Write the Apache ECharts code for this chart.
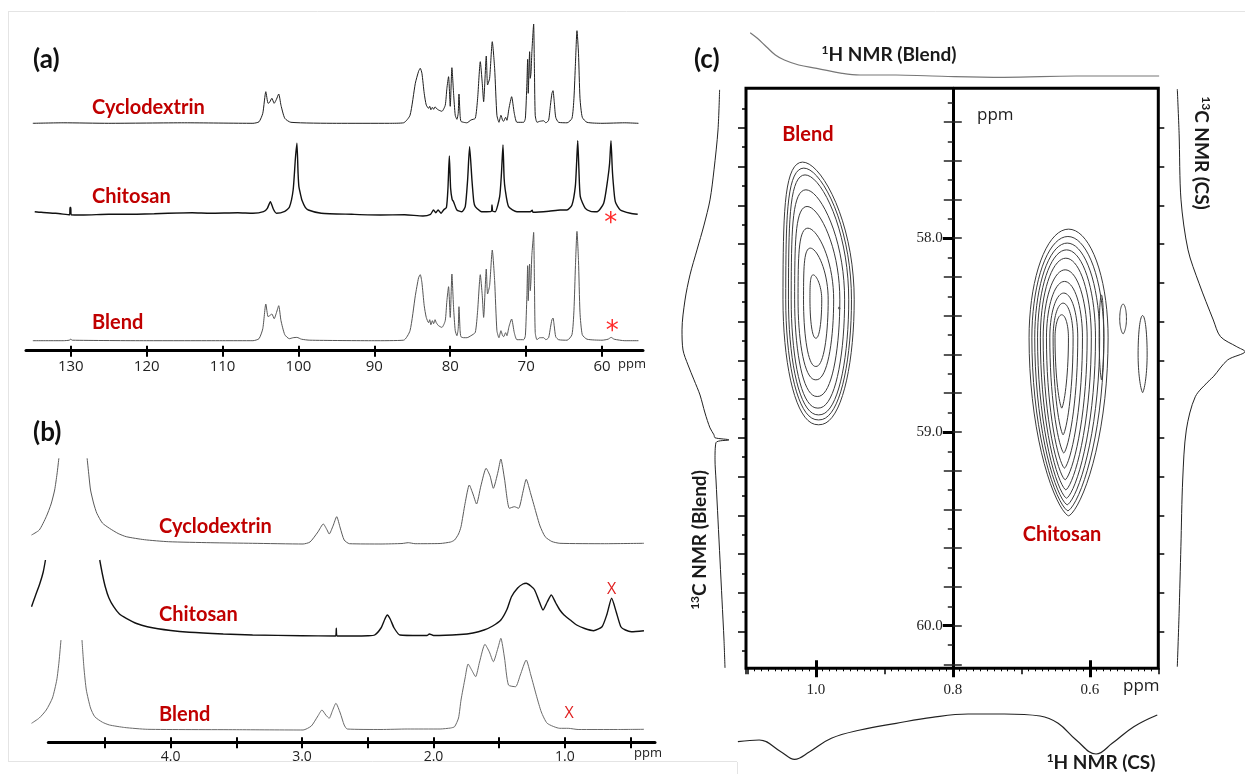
<!DOCTYPE html>
<html>
<head>
<meta charset="utf-8">
<script src="https://cdn.jsdelivr.net/npm/echarts@6.0.0/dist/echarts.min.js"></script>
<style>
  html, body { margin: 0; padding: 0; background: #fff; }
  #chart { width: 1245px; height: 774px; }
</style>
</head>
<body>
<div id="chart"></div>
<script>
// ---- (a) 13C CP/MAS spectra: [ppm, intensity a.u.] ----
const c13Cyclodextrin = [
  [135.0, 0], [131, 0.5], [125, 0], [115, 0.5], [106, 0], [105.2, 1.5], [104.7, 10], [104.3, 31.6], [104.0, 20],
  [103.8, 21], [103.5, 25], [103.2, 20], [102.9, 24], [102.6, 29.3], [102.3, 18], [101.8, 5], [101.0, 1], [95, 0],
  [88, 0], [86.15, 0.5], [85.3, 8], [84.6, 40], [84.17, 52], [83.95, 55], [83.73, 50], [83.43, 30], [83.16, 18.3],
  [82.85, 15], [82.7, 17], [82.55, 13.5], [82.35, 16], [82.19, 14], [82.0, 16.5], [81.84, 15], [81.54, 13.3],
  [81.1, 12], [80.66, 18], [80.44, 35], [80.22, 46.6], [80.0, 17], [79.78, 55.6], [79.56, 30], [79.34, 8],
  [79.12, 4], [78.95, 10], [78.85, 29.3], [78.7, 8], [78.59, 2], [78.24, 1], [77.8, 0.5], [77.27, 3.3], [76.7, 5],
  [76.39, 25], [76.04, 61.6], [75.78, 40], [75.6, 21.6], [75.25, 67.3], [75.08, 38.3], [74.81, 45], [74.46, 81.6],
  [74.15, 55], [73.85, 8], [73.58, 1], [73.32, 8], [73.1, 3], [72.97, 2], [72.7, 6], [72.53, 3], [72.26, 15],
  [71.91, 26.6], [71.56, 10], [71.21, 1], [70.33, 1], [70.1, 5], [69.9, 40], [69.8, 64], [69.72, 30], [69.6, 60],
  [69.54, 71.6], [69.45, 45], [69.36, 50], [69.25, 70], [69.1, 90], [69.01, 99.3], [68.9, 50], [68.8, 8],
  [68.57, 1], [68.2, 2], [67.69, 2.5], [67.4, 0.5], [67.04, 3], [66.8, 18], [66.6, 30], [66.46, 32.6], [66.3, 22],
  [66.1, 6], [65.72, 1], [64.6, 0.5], [63.96, 5], [63.7, 25], [63.5, 60], [63.3, 92.6], [63.1, 70], [62.9, 25],
  [62.6, 6], [61.98, 1], [60, 0], [57, 0.5], [55.2, 0]
];
const c13Chitosan = [
  [134.75, 1.6], [133.9, 1], [132, 0], [130.15, -1.5], [130.1, 5.9], [130.0, 5.9], [129.95, -1.5], [128.3, -1.7],
  [125, -1], [122.7, -1], [119, -0.5], [117.2, 0], [114, 0.5], [111.6, 0], [108, 0.5], [106.0, 0], [104.6, 1.6],
  [104.1, 5], [103.7, 11.6], [103.3, 4], [102.9, 0], [101.8, 2], [101.2, 6], [100.7, 23.3], [100.4, 55],
  [100.2, 70], [100.05, 40], [99.94, 26.6], [99.7, 18], [99.55, 13.3], [99.1, 6], [98.7, 3.3], [97.0, 0],
  [93, -1], [89.2, -1.7], [86, -1.5], [83.6, -2.7], [82.6, -1], [82.2, 3.3], [81.9, 0.5], [81.6, 3.3], [81.2, 0],
  [80.88, 3.3], [80.5, 6], [80.3, 25], [80.12, 57.3], [79.95, 25], [79.75, 14], [79.56, 11.6], [79.12, 3.3],
  [78.46, 1.6], [78.02, 6.6], [77.71, 33.3], [77.45, 66.6], [77.14, 33.3], [76.9, 12], [76.7, 6.6], [76.0, 2],
  [75.6, 1.6], [74.6, 2], [74.5, 8.3], [74.4, 2], [74.07, 1.6], [73.49, 16.6], [73.25, 40], [73.05, 68.3],
  [72.9, 35], [72.75, 23.3], [72.31, 6.6], [71.21, 1.6], [69.45, 1.6], [69.2, 3], [69.1, 1], [67, 2], [65.5, 3.3],
  [64.62, 3.3], [63.96, 8.3], [63.52, 26.6], [63.35, 50], [63.2, 72.6], [63.05, 45], [62.86, 16.6], [62.2, 5],
  [61.5, 2], [60.66, 1.6], [59.78, 10], [59.26, 33.3], [59.0, 50], [58.82, 72.6], [58.65, 45], [58.55, 33.3],
  [58.25, 11.6], [57.59, 3.3], [56.27, 0], [55.3, -1]
];
const c13Blend = [
  [135, 0], [131, 0], [130.2, 0.5], [130.0, 1.5], [129.8, 0.5], [120, 0], [110, 0], [106, 0], [105.2, 2],
  [104.7, 12], [104.3, 36.7], [104.0, 24], [103.8, 25], [103.5, 26.7], [103.2, 22], [102.9, 28], [102.6, 35],
  [102.3, 20], [101.8, 6], [101.2, 2], [100.7, 3], [100.2, 3.3], [99.6, 1.5], [98.5, 0.5], [90, 0], [86.15, 0.5],
  [85.3, 10], [84.6, 45], [84.17, 63], [83.95, 66], [83.73, 58], [83.43, 35], [83.16, 23.3], [82.85, 18],
  [82.7, 21], [82.55, 16], [82.35, 20], [82.19, 17], [82.0, 21], [81.84, 18], [81.54, 15], [81.1, 13.3],
  [80.66, 20], [80.44, 40], [80.22, 54], [80.0, 23.3], [79.78, 66.7], [79.56, 33], [79.34, 10], [79.12, 5],
  [78.95, 12], [78.85, 34], [78.7, 10], [78.59, 4], [78.24, 3], [77.8, 3], [77.27, 5], [76.7, 8.3], [76.39, 30],
  [76.04, 66], [75.78, 45], [75.6, 23.3], [75.25, 71.7], [75.08, 46.7], [74.81, 55], [74.46, 90.7], [74.15, 60],
  [73.85, 10], [73.58, 3], [73.32, 10], [73.1, 5], [72.97, 4], [72.7, 8], [72.53, 5], [72.26, 14], [71.91, 21.7],
  [71.56, 8], [71.21, 1], [70.33, 1], [70.1, 5], [69.9, 45], [69.8, 75], [69.72, 40], [69.6, 70], [69.54, 76.7],
  [69.45, 50], [69.36, 60], [69.25, 85], [69.1, 100], [69.01, 108.3], [68.9, 55], [68.8, 8], [68.57, 1],
  [68.2, 3], [67.69, 3], [67.4, 1], [67.04, 3], [66.8, 13], [66.6, 21], [66.46, 22.7], [66.3, 15], [66.1, 4],
  [65.72, 1], [64.6, 0.5], [63.96, 6], [63.7, 30], [63.5, 75], [63.3, 109.3], [63.1, 80], [62.9, 28], [62.6, 6],
  [61.98, 1.5], [60, 0.5], [59.2, 1.5], [58.8, 3.3], [58.4, 1.5], [57, 0], [55.2, 0]
];
const c13Ticks = [60, 70, 80, 90, 100, 110, 120, 130];

// ---- (b) 1H spectra: [ppm, intensity a.u.]; '-' marks the clipped water peak ----
const h1Cyclodextrin = [
  [5.059, 9], [5.0, 14], [4.947, 27.3], [4.91, 40], [4.883, 54], [4.865, 70], [4.851, 85.7], [4.75, '-'],
  [4.636, 85.7], [4.622, 68], [4.61, 54], [4.585, 40], [4.562, 30.7], [4.52, 21], [4.466, 15.7], [4.4, 10.5],
  [4.338, 7.3], [4.2, 4.3], [4.018, 2.3], [3.7, 1.3], [3.377, 0.7], [2.993, 0], [2.94, 2], [2.88, 12],
  [2.839, 20], [2.81, 14], [2.794, 10], [2.765, 18], [2.737, 27.3], [2.71, 16], [2.68, 4], [2.64, 0.3],
  [2.4, 0], [2.24, 0.5], [2.192, 1.3], [2.14, 0.3], [1.95, 0.5], [1.87, 2], [1.84, 4], [1.81, 10], [1.791, 17.3],
  [1.76, 40.7], [1.728, 59], [1.7, 50], [1.673, 40], [1.64, 58], [1.6, 75.7], [1.57, 68], [1.545, 55.7],
  [1.51, 72], [1.488, 85], [1.46, 65], [1.423, 35.7], [1.385, 37.3], [1.353, 35.7], [1.32, 52], [1.295, 64.7],
  [1.26, 50], [1.215, 29], [1.19, 18], [1.151, 7.3], [1.1, 2.5], [1.039, 0.7], [0.7, 0.3], [0.399, 0.7]
];
const h1Chitosan = [
  [5.059, 29.3], [5.03, 40], [4.995, 52.7], [4.97, 64], [4.953, 76], [4.75, '-'], [4.54, 76], [4.52, 62],
  [4.498, 49.3], [4.47, 38], [4.434, 29.3], [4.39, 22], [4.338, 17.7], [4.26, 12.5], [4.178, 9.3], [4.0, 5.5],
  [3.858, 3.7], [3.6, 2], [3.377, 1], [3.0, 0.3], [2.745, 0], [2.74, 7.7], [2.735, 0], [2.5, 0.3], [2.448, 1],
  [2.4, 8], [2.37, 17], [2.352, 21], [2.33, 17], [2.3, 8], [2.256, 1], [2.1, 0.5], [2.05, 0.5], [2.032, 2],
  [2.0, 0.5], [1.8, 1.5], [1.7, 3], [1.616, 6], [1.55, 10], [1.488, 16], [1.44, 27], [1.407, 39.3], [1.36, 48],
  [1.32, 52], [1.295, 52.7], [1.26, 50], [1.231, 46], [1.2, 36], [1.167, 26], [1.135, 34], [1.104, 41],
  [1.07, 33], [1.039, 26], [1.007, 21], [0.96, 16], [0.911, 11], [0.85, 7.5], [0.783, 5.3], [0.718, 9.3],
  [0.68, 22], [0.645, 37.7], [0.61, 24], [0.575, 9.3], [0.54, 6], [0.495, 4.3], [0.399, 5.3]
];
const h1Blend = [
  [5.059, 6.7], [5.0, 12], [4.947, 20], [4.9, 32], [4.867, 50], [4.85, 68], [4.835, 90], [4.75, '-'],
  [4.675, 90], [4.66, 62], [4.642, 40], [4.61, 22], [4.578, 13.3], [4.52, 7.8], [4.466, 5], [4.35, 2.5],
  [4.178, 0.7], [3.5, 0.3], [2.993, 0], [2.93, 4], [2.88, 14], [2.849, 20], [2.82, 15], [2.794, 11.7],
  [2.77, 19], [2.743, 26.7], [2.71, 17], [2.68, 5], [2.657, 1], [2.4, 0.5], [2.2, 1], [1.95, 1], [1.87, 2],
  [1.84, 3.3], [1.81, 12], [1.791, 30], [1.76, 52], [1.737, 66], [1.71, 60], [1.68, 53.3], [1.65, 68],
  [1.609, 85.7], [1.575, 78], [1.545, 68.3], [1.51, 82], [1.488, 91.7], [1.46, 72], [1.43, 45], [1.376, 43.3],
  [1.34, 55], [1.295, 70], [1.26, 55], [1.215, 33.3], [1.18, 18], [1.135, 6.7], [1.039, 1.7], [0.975, 1.7],
  [0.9, 0.5], [0.6, 0.5], [0.399, 0.7]
];
const h1Labels = [1.0, 2.0, 3.0, 4.0];
const h1Ticks = [0.5, 1.0, 1.5, 2.0, 2.5, 3.0, 3.5, 4.0, 4.5];

// ---- (c) 1H-13C HETCOR contours: centre (1H, 13C) and half-widths in ppm ----
const blendH = [0.996, 0.996, 0.996, 0.997, 0.998, 1.000, 1.000, 1.000, 0.966];
const blendC = [58.318, 58.318, 58.318, 58.318, 58.318, 58.318, 58.318, 58.318, 58.361];
const blendRx = [0.052, 0.048, 0.044, 0.039, 0.033, 0.026, 0.018, 0.0086, 0.001];
const blendRyTop = [0.711, 0.680, 0.645, 0.568, 0.482, 0.370, 0.267, 0.129, 0.005];
const blendRyBottom = [0.645, 0.620, 0.594, 0.559, 0.499, 0.413, 0.344, 0.198, 0.005];

const chitosanH = [0.631, 0.632, 0.633, 0.634, 0.635, 0.636, 0.637, 0.638, 0.639, 0.641, 0.583, 0.5514, 0.5229];
const chitosanC = [58.514, 58.514, 58.514, 58.514, 58.514, 58.514, 58.514, 58.514, 58.514, 58.514, 58.512, 58.417, 58.598];
const chitosanRx = [0.0577, 0.0526, 0.0474, 0.0423, 0.0372, 0.0321, 0.0263, 0.0204, 0.0146, 0.0098, 0.0034, 0.0049, 0.0066];
const chitosanRyTop = [0.561, 0.523, 0.489, 0.454, 0.411, 0.351, 0.291, 0.231, 0.179, 0.119, 0.219, 0.077, 0.199];
const chitosanRyBottom = [0.919, 0.893, 0.862, 0.828, 0.785, 0.733, 0.673, 0.595, 0.501, 0.363, 0.219, 0.077, 0.199];

// projections: [ppm, intensity a.u.]
const projH1Blend = [
  [1.0959, 47.3], [1.0854, 41.7], [1.0723, 33.3], [1.0591, 25], [1.046, 20], [1.025, 15], [0.9987, 11.7],
  [0.9618, 6.7], [0.9355, 5], [0.883, 5], [0.8303, 4], [0.7252, 2.7], [0.6199, 4], [0.4988, 4]
];
const projH1CS = [
  [1.114, 41.7], [1.0828, 40], [1.0512, 51.7], [1.0312, 59.3], [1.0092, 51.7], [0.9775, 38.3], [0.9355, 30],
  [0.8829, 23.3], [0.8302, 17.3], [0.7777, 14], [0.725, 14], [0.6726, 16], [0.6463, 23.3], [0.6199, 40],
  [0.5909, 54], [0.5673, 43.3], [0.5358, 26.7], [0.5015, 15]
];
const projC13Blend = [
  [57.234, 12.4], [57.441, 14], [57.647, 18], [57.802, 22], [57.932, 28], [58.06, 35], [58.189, 42],
  [58.319, 47], [58.473, 50], [58.577, 49], [58.654, 44], [58.731, 38], [58.809, 32], [58.902, 27],
  [58.979, 22], [59.015, 18], [59.03, 17], [59.041, 3], [59.055, 16], [59.144, 17], [59.248, 16],
  [59.454, 14], [59.661, 12], [59.867, 10], [60.074, 8], [60.218, 7]
];
const projC13CS = [
  [57.23, 7.3], [57.458, 9.1], [57.802, 11], [58.06, 18], [58.232, 29], [58.422, 43.3], [58.508, 50.5],
  [58.56, 66.8], [58.585, 75], [58.628, 57.7], [58.715, 43.3], [58.732, 39.7], [58.818, 25.3], [58.99, 16.3],
  [59.248, 12.7], [59.592, 10.9], [59.936, 9.1], [60.212, 7.3]
];
const hetcorXLabels = [0.6, 0.8, 1.0];
const hetcorYLabels = [58.0, 59.0, 60.0];
const dividerLongTicks = [57.4, 57.6, 57.8, 58.2, 58.4, 58.6, 58.8, 59.2, 59.4, 59.6, 59.8, 60.2];
const dividerShortTicks = [57.3, 57.5, 57.7, 57.9, 58.1, 58.3, 58.5, 58.7, 58.9, 59.1, 59.3, 59.5, 59.7, 59.9, 60.1];
const edgeLongTicks = [57.43, 57.63, 57.83, 58.03, 58.23, 58.43, 58.63, 58.83, 59.03, 59.23, 59.43, 59.63, 59.83, 60.03];
const edgeShortTicks = [57.33, 57.53, 57.73, 57.93, 58.13, 58.33, 58.53, 58.73, 58.93, 59.13, 59.33, 59.53, 59.73, 59.93, 60.13];

const RED = '#c00000';
const C13_RANGE = [54.6, 135.9];
const H1_TRACE_RANGE = [0.315, 5.063];
const HX_RANGE = [0.5, 1.102];
const HC_RANGE = [57.226, 60.22];
const DIVIDER_OFFSET = -206.8;

function zipContours(h, c, rx, ryt, ryb) {
  return h.map((v, i) => [v, c[i], rx[i], ryt[i], ryb[i]]);
}

function hidden(gridIndex, min, max, inverse) {
  return { type: 'value', gridIndex, min, max, inverse: !!inverse, show: false };
}

function tickAxis(extra) {
  return Object.assign({
    type: 'value',
    splitLine: { show: false },
    axisLine: { show: false, onZero: false },
    axisTick: { show: false },
    axisLabel: { show: false }
  }, extra);
}

// egg-shaped contour: separate top / bottom half-heights, optional tip sharpness and skew of the top
function contourRenderer(bottomTip, topSkew) {
  return function (params, api) {
    const c = api.coord([api.value(0), api.value(1)]);
    const st = api.size([api.value(2), api.value(3)], [api.value(0), api.value(1)]);
    const sb = api.size([api.value(2), api.value(4)], [api.value(0), api.value(1)]);
    const rx = Math.abs(st[0]), ryT = Math.abs(st[1]), ryB = Math.abs(sb[1]);
    const pts = [];
    for (let i = 0; i < 72; i++) {
      const a = i / 72 * Math.PI * 2;
      const s = Math.sin(a), co = Math.cos(a);
      let x, y;
      if (s < 0) {
        x = c[0] + rx * co + topSkew * rx * (-s) * (-s);
        y = c[1] + ryT * s;
      } else {
        x = c[0] + rx * Math.sign(co) * Math.pow(Math.abs(co), bottomTip);
        y = c[1] + ryB * s;
      }
      pts.push([x, y]);
    }
    return {
      type: 'polygon',
      shape: { points: pts },
      style: { fill: 'none', stroke: '#3a3a3a', lineWidth: 1 }
    };
  };
}

function txt(x, y, text, font, fill, align, extra) {
  return Object.assign({
    type: 'text', x, y, z: 100,
    style: {
      text, font, fill: fill || '#111',
      align: align || 'left', verticalAlign: 'middle',
      textAlign: align || 'left', textVerticalAlign: 'middle'
    }
  }, extra || {});
}

function supTxt(x, y, sup, rest, rotation) {
  return {
    type: 'text', x, y, z: 100, rotation: rotation || 0,
    style: {
      text: '{s|' + sup + '}{t|' + rest + '}',
      align: 'center', verticalAlign: 'middle',
      textAlign: 'center', textVerticalAlign: 'middle',
      rich: {
        s: { font: 'bold 12px Lato', fill: '#1a1a1a', verticalAlign: 'top', lineHeight: 22 },
        t: { font: 'bold 19px Lato', fill: '#1a1a1a', lineHeight: 22 }
      }
    }
  };
}

function frameLine(x1, y1, x2, y2) {
  return { type: 'line', shape: { x1, y1, x2, y2 }, style: { stroke: '#e4e4e4', lineWidth: 1 }, z: 0 };
}

const chart = echarts.init(document.getElementById('chart'));

const spectrumLine = (data, xi, yi, color, width) => ({
  type: 'line', data, xAxisIndex: xi, yAxisIndex: yi,
  showSymbol: false, symbol: 'none', smooth: 0.2, connectNulls: false,
  lineStyle: { color, width }, clip: false, silent: true
});

chart.setOption({
  animation: false,
  backgroundColor: '#fff',
  grid: [
    // (a)
    { left: 26, width: 617, top: 3.3, height: 130 },
    { left: 26, width: 617, top: 93.3, height: 130 },
    { left: 26, width: 617, top: 220, height: 130.7 },
    // (b)
    { left: 31, width: 624, top: 444, height: 110 },
    { left: 31, width: 624, top: 536, height: 110 },
    { left: 31, width: 624, top: 630, height: 110 },
    { left: 48.3, width: 606.7, top: 700, height: 42.3 },
    // (c) main box
    { left: 746, width: 412.3, top: 88.3, height: 580, show: true, borderColor: '#000', borderWidth: 3, backgroundColor: 'transparent' },
    // (c) projections: top, bottom, left, right
    { left: 746, width: 412.3, top: 25, height: 55 },
    { left: 737, width: 421.3, top: 700, height: 65 },
    { left: 678, width: 54, top: 88.3, height: 580 },
    { left: 1170, width: 75, top: 88.3, height: 580 }
  ],
  xAxis: [
    hidden(0, C13_RANGE[0], C13_RANGE[1], true),
    hidden(1, C13_RANGE[0], C13_RANGE[1], true),
    tickAxis({
      gridIndex: 2, position: 'bottom', min: C13_RANGE[0], max: C13_RANGE[1], inverse: true,
      axisLine: { show: true, onZero: false, lineStyle: { color: '#000', width: 3 } },
      axisTick: { show: true, customValues: c13Ticks, length: 6, lineStyle: { color: '#000', width: 2 } },
      axisLabel: { show: true, customValues: c13Ticks, margin: 9, color: '#222', fontSize: 15, fontFamily: 'Open Sans' }
    }),
    tickAxis({
      gridIndex: 2, position: 'bottom', min: C13_RANGE[0], max: C13_RANGE[1], inverse: true,
      axisTick: { show: true, inside: true, customValues: c13Ticks, length: 5, lineStyle: { color: '#000', width: 2 } }
    }),
    hidden(3, H1_TRACE_RANGE[0], H1_TRACE_RANGE[1], true),
    hidden(4, H1_TRACE_RANGE[0], H1_TRACE_RANGE[1], true),
    hidden(5, H1_TRACE_RANGE[0], H1_TRACE_RANGE[1], true),
    tickAxis({
      gridIndex: 6, position: 'bottom', min: 0.315, max: 4.93, inverse: true,
      axisLine: { show: true, onZero: false, lineStyle: { color: '#000', width: 3 } },
      axisTick: { show: true, customValues: h1Ticks, length: 6, lineStyle: { color: '#000', width: 2 } },
      axisLabel: {
        show: true, customValues: h1Labels, margin: 8, color: '#222', fontSize: 14, fontFamily: 'Open Sans',
        formatter: v => v.toFixed(1)
      }
    }),
    tickAxis({
      gridIndex: 6, position: 'bottom', min: 0.315, max: 4.93, inverse: true,
      axisTick: { show: true, inside: true, customValues: h1Ticks, length: 5, lineStyle: { color: '#000', width: 2 } }
    }),
    // (c) bottom 1H axis
    tickAxis({
      gridIndex: 7, position: 'bottom', min: HX_RANGE[0], max: HX_RANGE[1], inverse: true, interval: 0.1,
      axisTick: { show: true, length: 6, lineStyle: { color: '#000', width: 1.5 } },
      minorTick: { show: true, splitNumber: 10, length: 3, lineStyle: { color: '#000', width: 1 } },
      axisLabel: {
        show: true, customValues: hetcorXLabels, margin: 14, color: '#222', fontSize: 15,
        fontFamily: 'Liberation Serif', formatter: v => v.toFixed(1)
      }
    }),
    tickAxis({
      gridIndex: 7, position: 'bottom', min: HX_RANGE[0], max: HX_RANGE[1], inverse: true,
      axisTick: { show: true, inside: true, customValues: [0.6, 1.0], length: 8, lineStyle: { color: '#000', width: 3 } }
    }),
    tickAxis({
      gridIndex: 7, position: 'bottom', min: HX_RANGE[0], max: HX_RANGE[1], inverse: true,
      axisTick: { show: true, customValues: hetcorXLabels, length: 9, lineStyle: { color: '#000', width: 3 } }
    }),
    hidden(8, HX_RANGE[0], HX_RANGE[1], true),
    hidden(9, 0.5, 1.1153, true),
    hidden(10, 0, 54, true),
    hidden(11, 0, 75, false)
  ],
  yAxis: [
    hidden(0, -10, 120), hidden(1, -10, 120), hidden(2, -10, 120.7),
    hidden(3, -10, 100), hidden(4, -10, 100), hidden(5, -10, 100), hidden(6, 0, 1),
    // (c) box edges
    tickAxis({
      gridIndex: 7, position: 'left', min: HC_RANGE[0], max: HC_RANGE[1], inverse: true,
      axisTick: { show: true, customValues: edgeLongTicks, length: 8, lineStyle: { color: '#000', width: 1.5 } }
    }),
    tickAxis({
      gridIndex: 7, position: 'left', min: HC_RANGE[0], max: HC_RANGE[1], inverse: true,
      axisTick: { show: true, customValues: edgeShortTicks, length: 4, lineStyle: { color: '#000', width: 1.5 } }
    }),
    tickAxis({
      gridIndex: 7, position: 'right', min: HC_RANGE[0], max: HC_RANGE[1], inverse: true,
      axisTick: { show: true, customValues: edgeLongTicks, length: 6, lineStyle: { color: '#000', width: 1.5 } }
    }),
    // divider axis at 0.8 ppm
    tickAxis({
      gridIndex: 7, position: 'left', offset: DIVIDER_OFFSET, min: HC_RANGE[0], max: HC_RANGE[1], inverse: true,
      axisLine: { show: true, onZero: false, lineStyle: { color: '#000', width: 3 } },
      axisTick: { show: true, customValues: hetcorYLabels, length: 10, lineStyle: { color: '#000', width: 3 } },
      axisLabel: {
        show: true, customValues: hetcorYLabels, margin: 10, color: '#222', fontSize: 15,
        fontFamily: 'Liberation Serif', formatter: v => v.toFixed(1)
      }
    }),
    tickAxis({
      gridIndex: 7, position: 'left', offset: DIVIDER_OFFSET, min: HC_RANGE[0], max: HC_RANGE[1], inverse: true,
      axisTick: { show: true, customValues: dividerLongTicks, length: 9, lineStyle: { color: '#222', width: 1.5 } }
    }),
    tickAxis({
      gridIndex: 7, position: 'left', offset: DIVIDER_OFFSET, min: HC_RANGE[0], max: HC_RANGE[1], inverse: true,
      axisTick: { show: true, inside: true, customValues: dividerLongTicks.concat(hetcorYLabels), length: 9, lineStyle: { color: '#222', width: 1.5 } }
    }),
    tickAxis({
      gridIndex: 7, position: 'left', offset: DIVIDER_OFFSET, min: HC_RANGE[0], max: HC_RANGE[1], inverse: true,
      axisTick: { show: true, customValues: dividerShortTicks, length: 5, lineStyle: { color: '#222', width: 1.5 } }
    }),
    hidden(8, 0, 55), hidden(9, 0, 65, true),
    hidden(10, HC_RANGE[0], HC_RANGE[1], true), hidden(11, HC_RANGE[0], HC_RANGE[1], true)
  ],
  series: [
    spectrumLine(c13Cyclodextrin, 0, 0, '#1e1e1e', 1),
    spectrumLine(c13Chitosan, 1, 1, '#111', 1.4),
    spectrumLine(c13Blend, 2, 2, '#555', 1),
    spectrumLine(h1Cyclodextrin, 4, 3, '#5a5a5a', 1),
    spectrumLine(h1Chitosan, 5, 4, '#111', 1.4),
    spectrumLine(h1Blend, 6, 5, '#6a6a6a', 1),
    {
      type: 'custom', xAxisIndex: 9, yAxisIndex: 10, renderItem: contourRenderer(0.9, -0.45), clip: true, silent: true,
      encode: { x: 0, y: 1 },
      data: zipContours(blendH, blendC, blendRx, blendRyTop, blendRyBottom)
    },
    {
      type: 'custom', xAxisIndex: 9, yAxisIndex: 10, renderItem: contourRenderer(1.4, 0), clip: true, silent: true,
      encode: { x: 0, y: 1 },
      data: zipContours(chitosanH, chitosanC, chitosanRx, chitosanRyTop, chitosanRyBottom)
    },
    Object.assign(spectrumLine(projH1Blend, 12, 14, '#777', 1.2), { smooth: 0.4 }),
    Object.assign(spectrumLine(projH1CS, 13, 15, '#222', 1.2), { smooth: 0.4 }),
    Object.assign(spectrumLine(projC13Blend, 14, 16, '#222', 1), { encode: { x: 1, y: 0 }, smooth: 0.3 }),
    Object.assign(spectrumLine(projC13CS, 15, 17, '#222', 1), { encode: { x: 1, y: 0 }, smooth: 0.3 })
  ],
  graphic: [
    frameLine(8, 11.5, 1245, 11.5),
    frameLine(8.5, 12, 8.5, 762),
    frameLine(8, 761.5, 737, 761.5),
    frameLine(737.5, 762, 737.5, 774),
    // (a)
    txt(33, 60, '(a)', 'bold 26px Lato', '#111'),
    txt(92, 108, 'Cyclodextrin', 'bold 20px Lato', RED),
    txt(92, 197, 'Chitosan', 'bold 20px Lato', RED),
    txt(92, 323, 'Blend', 'bold 20px Lato', RED),
    txt(610.7, 224, '*', '26px "DejaVu Sans"', '#ff2a2a', 'center'),
    txt(612.3, 332, '*', '26px "DejaVu Sans"', '#ff2a2a', 'center'),
    txt(618, 364, 'ppm', '13px "Open Sans"', '#222'),
    // (b)
    txt(33, 433, '(b)', 'bold 26px Lato', '#111'),
    txt(159, 527, 'Cyclodextrin', 'bold 20px Lato', RED),
    txt(159, 615, 'Chitosan', 'bold 20px Lato', RED),
    txt(159, 715, 'Blend', 'bold 20px Lato', RED),
    txt(611.5, 589, 'X', '16px "Open Sans"', '#e02020', 'center'),
    txt(569, 713, 'X', '16px "Open Sans"', '#e02020', 'center'),
    txt(634, 753, 'ppm', '13px "Open Sans"', '#222'),
    // (c)
    txt(694, 60, '(c)', 'bold 26px Lato', '#111'),
    supTxt(889, 55, '1', 'H NMR (Blend)'),
    supTxt(1101, 763, '1', 'H NMR (CS)'),
    supTxt(700, 540, '13', 'C NMR (Blend)', Math.PI / 2),
    supTxt(1201, 153, '13', 'C NMR (CS)', -Math.PI / 2),
    txt(977, 115, 'ppm', '17px "Open Sans"', '#222'),
    txt(1123, 686, 'ppm', '17px "Open Sans"', '#222'),
    txt(808, 135, 'Blend', 'bold 20px Lato', RED, 'center'),
    txt(1062, 535, 'Chitosan', 'bold 20px Lato', RED, 'center')
  ]
});

window.addEventListener('resize', () => chart.resize());
</script>
</body>
</html>
